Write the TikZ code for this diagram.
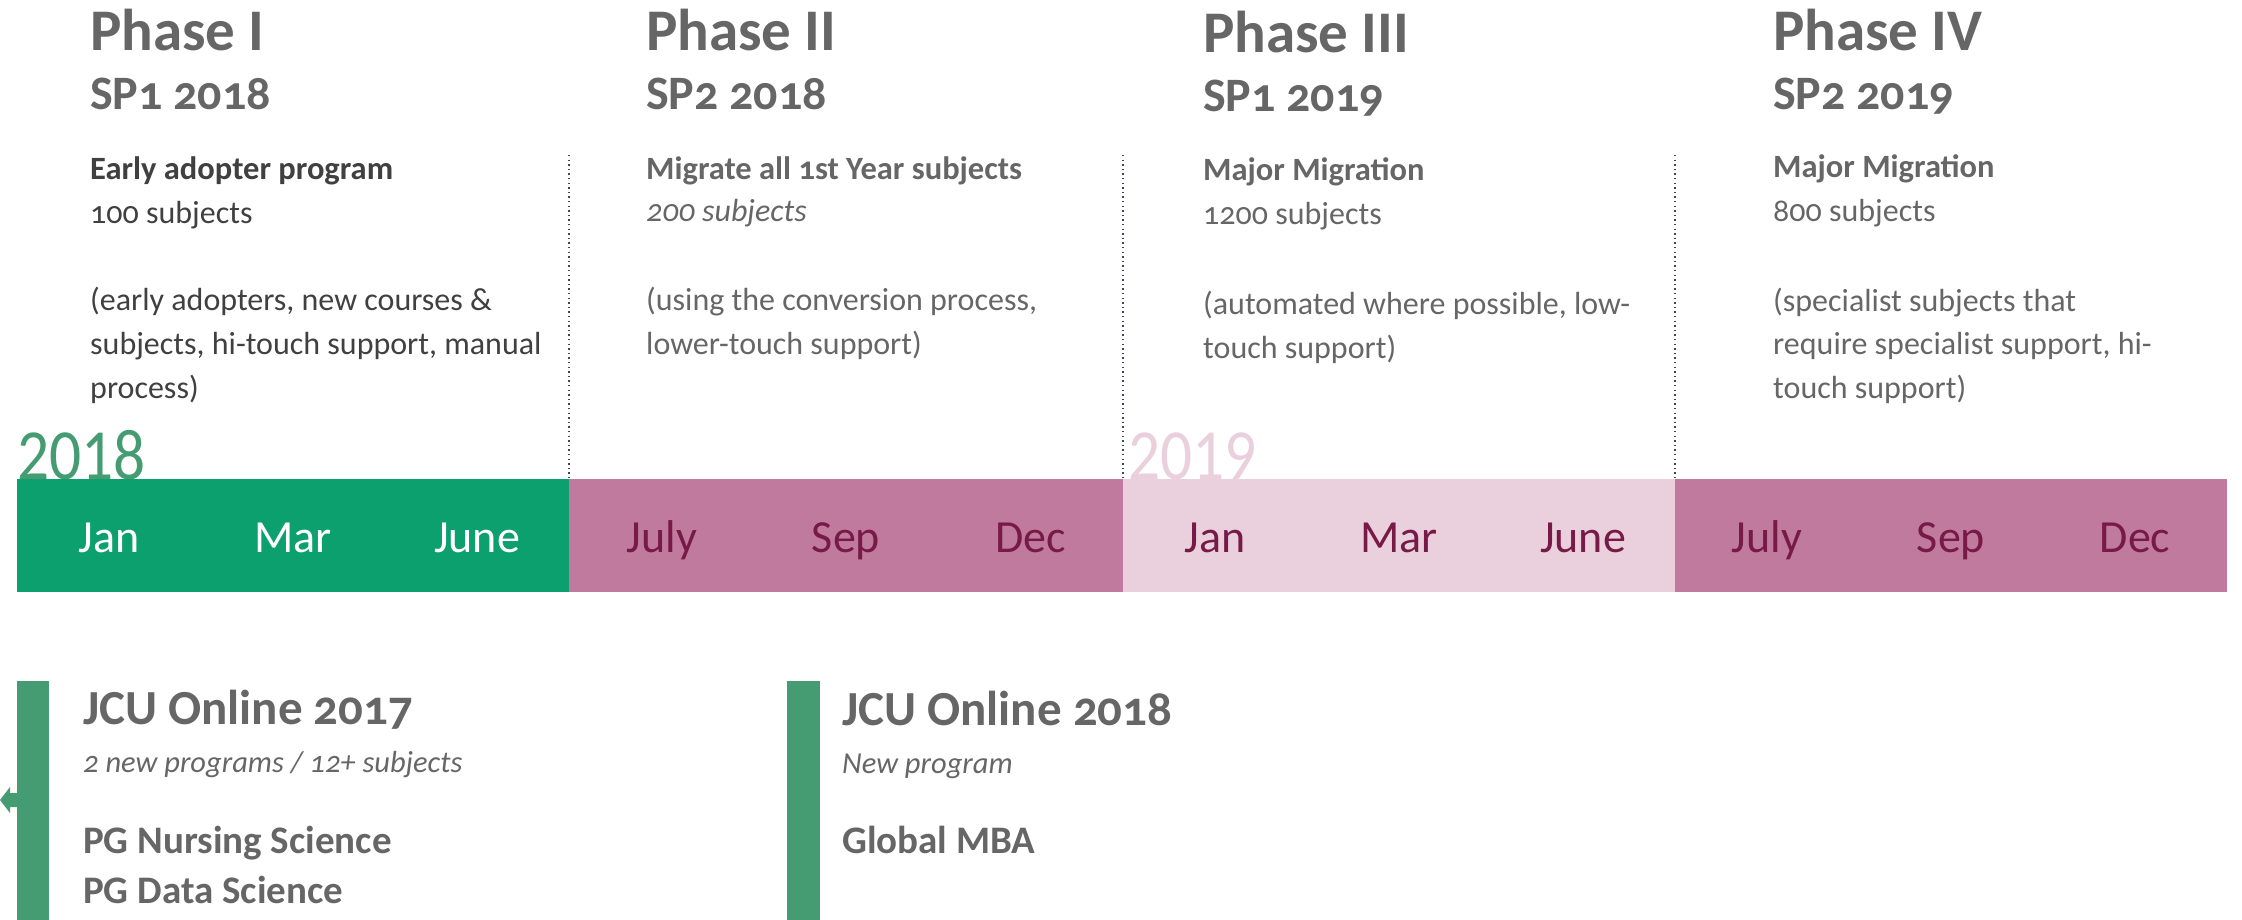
\documentclass[tikz,border=0pt]{standalone}
\usepackage{fontspec}
\setmainfont{Carlito}[Numbers=OldStyle]
\newfontfamily\lining{Carlito}[Numbers=Lining]
\definecolor{barg}{HTML}{0BA06E}
\definecolor{barp}{HTML}{C07A9E}
\definecolor{barl}{HTML}{EAD0DD}
\definecolor{maroon}{HTML}{781A48}
\definecolor{vgreen}{HTML}{469C72}
\definecolor{headg}{HTML}{666666}
\definecolor{darkg}{HTML}{404040}
\definecolor{dotc}{HTML}{3C4658}
\tikzset{
  txt/.style={inner sep=0pt, anchor=base west},
  phase/.style={txt, text=headg, font=\fontsize{59}{59}\selectfont\bfseries},
  sp/.style={txt, text=headg, font=\fontsize{48}{48}\selectfont\bfseries},
  bodyb/.style={txt, font=\fontsize{32.5}{44}\selectfont\bfseries},
  body/.style={txt, font=\fontsize{32}{44}\selectfont},
  month/.style={inner sep=0pt, anchor=base, font=\lining\fontsize{46}{46}\selectfont},
  year/.style={inner sep=0pt, anchor=base west, xscale=0.88, font=\lining\fontsize{72}{72}\selectfont},
  divider/.style={dotc, line width=1.4pt, dash pattern=on 1.4pt off 3.2pt},
  jcu/.style={txt, text=headg, font=\fontsize{49}{49}\selectfont\bfseries},
  jcusub/.style={txt, text=headg, font=\fontsize{30.5}{30.5}\selectfont\itshape},
  prog/.style={txt, text=headg, font=\fontsize{39}{39}\selectfont\bfseries}
}
\begin{document}
\begin{tikzpicture}[x=1pt,y=-1pt]
\useasboundingbox (0,0) rectangle (2242,920);
% dotted dividers
\coordinate (d1t) at (569,155); \coordinate (d1b) at (569,479);
\coordinate (d2t) at (1123,155); \coordinate (d2b) at (1123,479);
\coordinate (d3t) at (1675,155); \coordinate (d3b) at (1675,479);
\draw[divider] (d1t) -- (d1b);
\draw[divider] (d2t) -- (d2b);
\draw[divider] (d3t) -- (d3b);
% years
\node[year, text=vgreen] (y2018) at (17,479) {2018};
\node[year, text=barl] (y2019) at (1128,479) {2019};
% timeline bar
\fill[barg] (17,479) rectangle (569,592);
\fill[barp] (569,479) rectangle (1123,592);
\fill[barl] (1123,479) rectangle (1675,592);
\fill[barp] (1675,479) rectangle (2227,592);
% months
\node[month, text=white] (m1) at (109,552) {Jan};
\node[month, text=white] (m2) at (293,552) {Mar};
\node[month, text=white] (m3) at (477,552) {June};
\node[month, text=maroon] (m4) at (662,552) {July};
\node[month, text=maroon] (m5) at (846,552) {Sep};
\node[month, text=maroon] (m6) at (1031,552) {Dec};
\node[month, text=maroon] (m7) at (1215,552) {Jan};
\node[month, text=maroon] (m8) at (1399,552) {Mar};
\node[month, text=maroon] (m9) at (1583,552) {June};
\node[month, text=maroon] (m10) at (1767,552) {July};
\node[month, text=maroon] (m11) at (1951,552) {Sep};
\node[month, text=maroon] (m12) at (2135,552) {Dec};
% Phase I
\node[phase] (p1) at (90,51) {Phase I};
\node[sp] (s1) at (90,110) {SP1 2018};
\node[bodyb, text=darkg] (p1a) at (90,179) {Early adopter program};
\node[body, text=darkg] (p1b) at (90,223) {100 subjects};
\node[body, text=darkg] (p1c) at (90,310) {(early adopters, new courses \&};
\node[body, text=darkg] (p1d) at (90,354) {subjects, hi-touch support, manual};
\node[body, text=darkg] (p1e) at (90,398) {process)};
% Phase II
\node[phase] (p2) at (646,51) {Phase II};
\node[sp] (s2) at (646,110) {SP2 2018};
\node[bodyb, text=headg] (p2a) at (646,179) {Migrate all 1st Year subjects};
\node[body, text=headg, font=\fontsize{32}{44}\selectfont\itshape] (p2b) at (646,222) {200 subjects};
\node[body, text=headg] (p2c) at (646,310) {(using the conversion process,};
\node[body, text=headg] (p2d) at (646,354) {lower-touch support)};
% Phase III
\node[phase] (p3) at (1203,53) {Phase III};
\node[sp] (s3) at (1203,112) {SP1 2019};
\node[bodyb, text=headg] (p3a) at (1203,181) {Major Migration};
\node[body, text=headg] (p3b) at (1203,225) {1200 subjects};
\node[body, text=headg] (p3c) at (1203,314) {(automated where possible, low-};
\node[body, text=headg] (p3d) at (1203,358) {touch support)};
% Phase IV
\node[phase] (p4) at (1773,51) {Phase IV};
\node[sp] (s4) at (1773,110) {SP2 2019};
\node[bodyb, text=headg] (p4a) at (1773,178) {Major Migration};
\node[body, text=headg] (p4b) at (1773,222) {800 subjects};
\node[body, text=headg] (p4c) at (1773,311) {(specialist subjects that};
\node[body, text=headg] (p4d) at (1773,354) {require specialist support, hi-};
\node[body, text=headg] (p4e) at (1773,398) {touch support)};
% bottom green bars
\fill[vgreen] (17,681) rectangle (49,920);
\fill[vgreen] (787,681) rectangle (820,920);
% small arrow at left edge
\fill[vgreen] (17,793) -- (10,793) -- (10,787) -- (0,800) -- (10,813) -- (10,807) -- (17,807) -- cycle;
% JCU Online 2017
\node[jcu] (j1) at (83,724) {JCU Online 2017};
\node[jcusub] (j1s) at (83,772) {2 new programs / 12+ subjects};
\node[prog] (j1a) at (83,853) {PG Nursing Science};
\node[prog] (j1b) at (83,903) {PG Data Science};
% JCU Online 2018
\node[jcu] (j2) at (842,725) {JCU Online 2018};
\node[jcusub] (j2s) at (842,773) {New program};
\node[prog] (j2a) at (842,853) {Global MBA};
\end{tikzpicture}
\end{document}
